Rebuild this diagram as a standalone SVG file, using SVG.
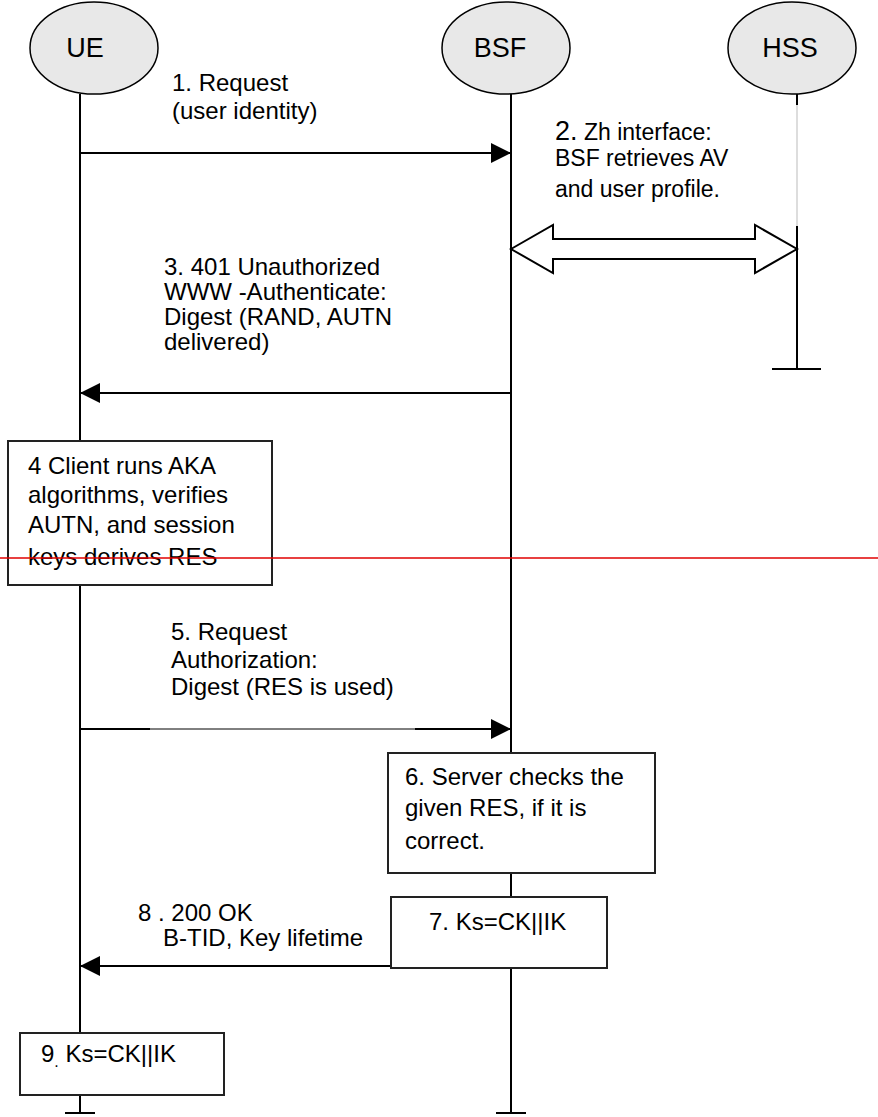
<svg xmlns="http://www.w3.org/2000/svg" width="878" height="1117" viewBox="0 0 878 1117">
<defs>
<style>
text{font-family:"Liberation Sans",Arial,sans-serif;fill:#000}
.t{font-size:24px}
.s{font-size:23px}
.h{font-size:27px}
.ln{stroke:#000;stroke-width:2;fill:none}
.thin{stroke:#000;stroke-width:1;fill:none}
.ell{fill:#e8e8e8;stroke:#000;stroke-width:1.5}
.box{fill:#fff;stroke:#222;stroke-width:2}
</style>
<marker id="ah" markerWidth="20" markerHeight="20" refX="20" refY="10" orient="auto" markerUnits="userSpaceOnUse">
<path d="M0,0 L20,10 L0,20 Z" fill="#000"/>
</marker>
</defs>
<rect width="878" height="1117" fill="#fff"/>

<g id="lifelines">
<line class="ln" x1="80" y1="94" x2="80" y2="1113"/>
<line class="ln" x1="65" y1="1113" x2="95" y2="1113"/>
<line class="ln" x1="511" y1="94" x2="511" y2="1113"/>
<line class="ln" x1="496" y1="1113" x2="526" y2="1113"/>
<line class="ln" x1="797" y1="94" x2="797" y2="105"/>
<line x1="797" y1="105" x2="797" y2="226" stroke="#bbb" stroke-width="1"/>
<line class="ln" x1="797" y1="226" x2="797" y2="369"/>
<line class="ln" x1="772" y1="369" x2="821" y2="369"/>
</g>

<g id="UE">
<ellipse class="ell" cx="94" cy="48" rx="64" ry="46"/>
<text class="h" x="85" y="57" text-anchor="middle">UE</text>
</g>
<g id="BSF">
<ellipse class="ell" cx="506" cy="48" rx="64" ry="46"/>
<text class="h" x="500" y="57" text-anchor="middle">BSF</text>
</g>
<g id="HSS">
<ellipse class="ell" cx="792" cy="48" rx="64" ry="46"/>
<text class="h" x="790" y="57" text-anchor="middle">HSS</text>
</g>

<g id="connectors">
<line class="ln" x1="80" y1="153" x2="511" y2="153" marker-end="url(#ah)"/>
<path d="M511,249 L553,225 L553,239 L755,239 L755,225 L797,249 L755,273 L755,259 L553,259 L553,273 Z" fill="#fff" stroke="#000" stroke-width="2" stroke-linejoin="miter"/>
<line class="ln" x1="511" y1="393" x2="80" y2="393" marker-end="url(#ah)"/>
<line class="ln" x1="80" y1="729" x2="150" y2="729"/>
<line class="thin" x1="150" y1="729" x2="415" y2="729"/>
<line class="ln" x1="415" y1="729" x2="511" y2="729" marker-end="url(#ah)"/>
<line class="ln" x1="511" y1="966" x2="80" y2="966" marker-end="url(#ah)"/>
</g>

<g id="msg1">
<text class="t" x="172" y="91">1. Request</text>
<text class="t" x="172" y="119">(user identity)</text>
</g>
<g id="msg2">
<text class="s" x="555" y="140"><tspan font-size="27">2.</tspan> Zh interface:</text>
<text class="s" x="555" y="166">BSF retrieves AV</text>
<text class="s" x="555" y="197">and user profile.</text>
</g>
<g id="msg3">
<text class="t" x="164" y="275">3. 401 Unauthorized</text>
<text class="t" x="164" y="300">WWW -Authenticate:</text>
<text class="t" x="164" y="325">Digest (RAND, AUTN</text>
<text class="t" x="164" y="350">delivered)</text>
</g>

<g id="box4">
<rect class="box" x="8" y="441" width="264" height="144"/>
<text class="t" x="28" y="474">4 Client runs AKA</text>
<text class="t" x="28" y="503">algorithms, verifies</text>
<text class="t" x="28" y="533">AUTN, and session</text>
<text class="t" x="28" y="565">keys derives RES</text>
</g>

<g id="msg5">
<text class="t" x="171" y="640">5. Request</text>
<text class="t" x="171" y="668">Authorization:</text>
<text class="t" x="171" y="695">Digest (RES is used)</text>
</g>

<g id="box6">
<rect class="box" x="388" y="753" width="267" height="120"/>
<text class="t" x="405" y="785">6. Server checks the</text>
<text class="t" x="405" y="816">given RES, if it is</text>
<text class="t" x="405" y="849">correct.</text>
</g>

<g id="box7">
<rect class="box" x="391" y="897" width="216" height="71"/>
<text class="t" x="429" y="930">7. Ks=CK||IK</text>
</g>

<g id="msg8">
<text class="t" x="138" y="921">8 . 200 OK</text>
<text class="t" x="163" y="946">B-TID, Key lifetime</text>
</g>

<g id="box9">
<rect class="box" x="20" y="1033" width="204" height="62"/>
<text class="t" x="41" y="1062">9<tspan dy="5" font-size="16">.</tspan><tspan dy="-5"> Ks=CK||IK</tspan></text>
</g>

<line id="redline" x1="0" y1="558" x2="878" y2="558" stroke="#e00000" stroke-width="1.5"/>
</svg>
